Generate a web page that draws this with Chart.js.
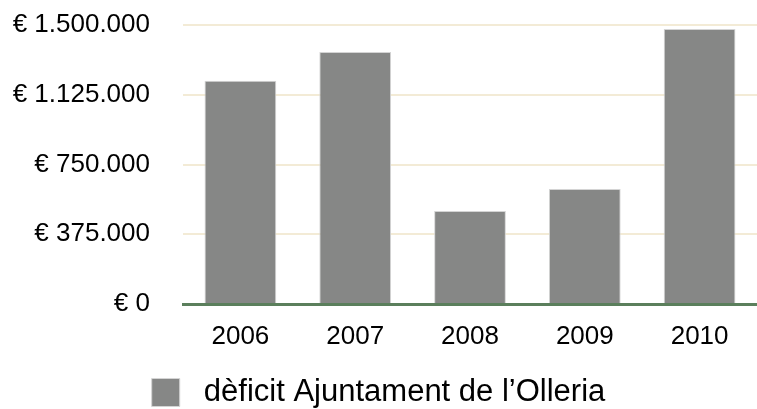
<!DOCTYPE html>
<html>
<head>
<meta charset="utf-8">
<script src="https://cdn.jsdelivr.net/npm/chart.js@4/dist/chart.umd.min.js"></script>
<style>
  html, body { margin: 0; padding: 0; background: #fff; overflow: hidden; }
  #wrap { width: 757px; height: 409px; }
</style>
</head>
<body>
<div id="wrap"><canvas id="chart"></canvas></div>
<script>
// Dades
const YEARS   = ['2006', '2007', '2008', '2009', '2010'];
const DEFICIT = [1200000, 1355000, 500000, 618000, 1478000];
const Y_TICKS = [0, 375000, 750000, 1125000, 1500000];
const LABEL   = 'dèficit Ajuntament de l’Olleria';

const FONT = '"Liberation Sans", Arial, Helvetica, sans-serif';

function fmtEuro(v) {
  return '€ ' + String(v).replace(/\B(?=(\d{3})+(?!\d))/g, '.');
}

new Chart(document.getElementById('chart'), {
  type: 'bar',
  data: {
    labels: YEARS,
    datasets: [{
      label: LABEL,
      data: DEFICIT,
      backgroundColor: '#868786',
      borderColor: '#d4d4d4',
      borderWidth: 1,
      barPercentage: 0.625,
      categoryPercentage: 1,
    }],
  },
  options: {
    responsive: true,
    maintainAspectRatio: false,
    animation: false,
    devicePixelRatio: 1,
    layout: { padding: { top: 25, right: 0, left: 0, bottom: -9 } },
    plugins: {
      tooltip: { enabled: false },
      legend: {
        position: 'bottom',
        labels: {
          color: '#000',
          boxWidth: 28,
          boxHeight: 28,
          padding: 2,
          font: { family: FONT, size: 31 },
          generateLabels: (chart) => {
            const items = Chart.defaults.plugins.legend.labels.generateLabels(chart);
            items.forEach(it => { it.text = ' ' + it.text; });
            return items;
          },
        },
      },
    },
    scales: {
      x: {
        grid: { display: false },
        border: { display: true, color: '#5b7f5c', width: 3 },
        ticks: { color: '#000', padding: 9, font: { family: FONT, size: 26 } },
        afterFit: (s) => { s.height = 71; },
      },
      y: {
        min: 0,
        max: 1500000,
        afterBuildTicks: (s) => { s.ticks = Y_TICKS.map(v => ({ value: v })); },
        grid: { color: '#f3ebd6', lineWidth: 2, drawTicks: false },
        border: { display: false },
        ticks: {
          color: '#000',
          padding: 33,
          font: { family: FONT, size: 26 },
          callback: (v) => fmtEuro(v),
        },
        afterFit: (s) => { s.width = 183; s.paddingTop = 0; s.paddingBottom = 0; },
      },
    },
  },
});
</script>
</body>
</html>
